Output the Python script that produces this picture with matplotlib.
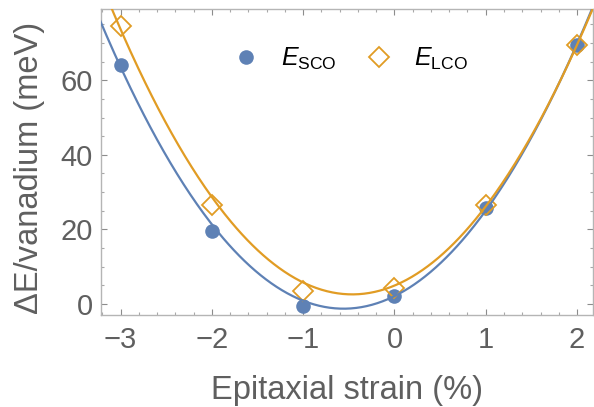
import numpy as np
import matplotlib
matplotlib.use("Agg")
import matplotlib.pyplot as plt
from matplotlib.ticker import MultipleLocator

plt.rcParams["font.family"] = ["Liberation Sans", "DejaVu Sans"]
plt.rcParams["mathtext.fontset"] = "custom"
plt.rcParams["mathtext.rm"] = "Liberation Sans"
plt.rcParams["mathtext.it"] = "Liberation Sans:italic"

# ---- data ----
strain = [-3, -2, -1, 0, 1, 2]
e_sco = [64.0, 19.6, -0.6, 2.1, 25.8, 69.4]
e_lco = [74.5, 26.5, 3.4, 4.2, 26.6, 69.5]
# quadratic fit coefficients (a*x^2 + b*x + c)
fit_sco = [10.87, 12.11, 2.05]
fit_lco = [11.05, 10.22, 4.88]
x_ticks = [-3, -2, -1, 0, 1, 2]
y_ticks = [0, 20, 40, 60]

blue = "#5E81B5"
orange = "#E19C24"
grey_txt = "#5f5f5f"
frame = "#b5b5b5"

fig = plt.figure(figsize=(5.94, 4.07), dpi=100)
ax = fig.add_axes([101 / 594, 1 - 315.3 / 407, 492 / 594, 306.3 / 407])

xx = np.linspace(-3.4, 2.4, 400)
ax.plot(strain, e_sco, "o", color=blue, ms=10.5, mew=0, zorder=3,
        label=r"$E_{\mathrm{SCO}}$")
ax.plot(strain, e_lco, "D", mfc="none", mec=orange, ms=10, mew=1.3, zorder=4,
        label=r"$E_{\mathrm{LCO}}$")
ax.plot(xx, np.polyval(fit_sco, xx), color=blue, lw=1.6, zorder=5)
ax.plot(xx, np.polyval(fit_lco, xx), color=orange, lw=1.6, zorder=6)

ax.set_xlim(-3.215, 2.175)
ax.set_ylim(-3.1, 79.15)
ax.set_xticks(x_ticks)
ax.set_yticks(y_ticks)
ax.set_xticklabels([("\u2212%d" % -v) if v < 0 else str(v) for v in x_ticks])
ax.xaxis.set_minor_locator(MultipleLocator(0.2))
ax.yaxis.set_minor_locator(MultipleLocator(5))

for s in ax.spines.values():
    s.set_color(frame)
    s.set_linewidth(1.0)
ax.tick_params(which="both", direction="in", top=True, right=True,
               color="#8c8c8c", width=0.8, labelcolor=grey_txt, labelsize=21)
ax.tick_params(which="major", length=4.5)
ax.tick_params(which="minor", length=2.5, color="#a8a8a8")
ax.tick_params(axis="x", which="major", pad=8)
ax.tick_params(axis="y", which="major", pad=6)

ax.set_xlabel("Epitaxial strain (%)", fontsize=23.5, color=grey_txt)
ax.set_ylabel("\u0394E/vanadium (meV)", fontsize=23.5, color=grey_txt)
ax.xaxis.label.set_va("baseline")
ax.yaxis.label.set_va("baseline")
ax.xaxis.set_label_coords(0.5, (315.3 - 399) / 306.3)
ax.yaxis.set_label_coords((38 - 101) / 492, 0.48)

leg = ax.legend(loc="center", bbox_to_anchor=(0.508, 0.838), ncol=2,
                frameon=False, fontsize=18, numpoints=1, handlelength=1.0,
                handletextpad=0.9, columnspacing=1.2, borderpad=0,
                borderaxespad=0)

fig.savefig("out.png", dpi=100)
